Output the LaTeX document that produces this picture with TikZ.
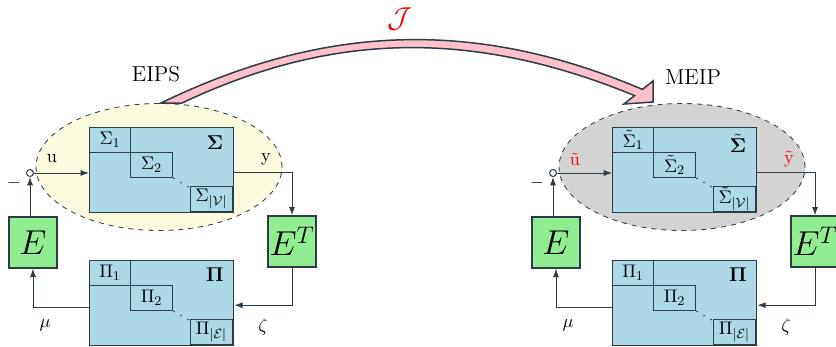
\documentclass[tikz,border=0pt]{standalone}
\usepackage{amsmath}
\usetikzlibrary{arrows.meta,shapes.geometric,calc}
\definecolor{lc}{RGB}{45,60,70}
\definecolor{boxblue}{RGB}{173,216,230}
\definecolor{grn}{RGB}{144,238,144}
\definecolor{pnk}{RGB}{255,192,203}
\definecolor{ylw}{RGB}{252,250,222}
\definecolor{gry}{RGB}{211,211,211}
\newcommand\pxu{0.6pt}
\newcommand\idm[1]{#1}
\tikzset{
  every node/.style={font=\fontsize{11}{13}\selectfont},
  bigbox/.style={draw=lc, fill=boxblue, line width=0.8pt, inner sep=0pt,
    minimum width=144*\pxu, minimum height=85*\pxu},
  subbox/.style={draw=lc, line width=0.7pt, inner sep=0pt,
    minimum width=41*\pxu, minimum height=25*\pxu},
  gbox/.style={draw=lc, fill=grn, line width=0.8pt, inner sep=0pt,
    minimum width=48*\pxu, minimum height=51*\pxu, font=\huge},
  boldlab/.style={font=\fontsize{13}{15}\selectfont},
  titlelab/.style={font=\fontsize{13}{15}\selectfont},
  conn/.style={draw=lc, line width=0.6pt},
  arr/.style={conn, -{Latex[length=5pt,width=3.6pt]}},
  sumpt/.style={circle, draw=lc, fill=white, line width=0.6pt, inner sep=0pt, minimum size=7*\pxu},
}
\newcommand\drawsys[6]{%
\begin{scope}[shift={(#2,0)}]
 \node[ellipse, draw=lc, dashed, fill=#3, line width=0.5pt, minimum width=246*\pxu, minimum height=127*\pxu] (#1ell) at (159,167) {};
 \node[bigbox, anchor=north west] (#1sig) at (89,127) {};
 \node[subbox, anchor=north west] (#1s1) at (89,127) {$#4{\Sigma}_1$};
 \node[subbox, anchor=north west, minimum width=42*\pxu] (#1s2) at (130,152) {$#4{\Sigma}_2$};
 \node[subbox, anchor=south east, minimum width=42*\pxu] (#1s3) at (233,212) {$#4{\Sigma}_{|\mathcal{V}|}$};
 \node[boldlab] (#1sl) at (215,143) {$#4{\mathbf{\Sigma}}$};
 \fill[lc] (174,178.5) circle (0.55pt) (181,182.5) circle (0.55pt) (188,186.5) circle (0.55pt);
 \node[bigbox, anchor=north west] (#1pi) at (89,260) {};
 \node[subbox, anchor=north west] (#1p1) at (89,260) {$\Pi_1$};
 \node[subbox, anchor=north west, minimum width=42*\pxu] (#1p2) at (130,285) {$\Pi_2$};
 \node[subbox, anchor=south east, minimum width=42*\pxu] (#1p3) at (233,345) {$\Pi_{|\mathcal{E}|}$};
 \node[boldlab] (#1pl) at (215,275) {$\mathbf{\Pi}$};
 \fill[lc] (174,311.5) circle (0.55pt) (181,315.5) circle (0.55pt) (188,319.5) circle (0.55pt);
 \node[gbox] (#1E) at (33,242.5) {$E$};
 \node[gbox] (#1ET) at (292,241.5) {$E^T$};
 \node[sumpt] (#1c) at (30,173) {};
 \node (#1m) at (14,183) {$-$};
 \node (#1u) at (52,159) {#5};
 \node (#1y) at (266,159) {#6};
 \node (#1mu) at (45,325) {$\mu$};
 \node (#1ze) at (263,327) {$\zeta$};
 \draw[arr] (#1E.north -| #1c.south) -- (#1c.south);
 \draw[arr] (#1c.east) -- (#1c -| #1sig.west);
 \draw[arr] ([yshift=-2*\pxu]#1sig.east) -| (#1ET.north);
 \draw[arr] (#1ET.south) |- ([yshift=-2*\pxu]#1pi.east);
 \draw[arr] ([yshift=-4*\pxu]#1pi.west) -| (#1E.south);
\end{scope}}
\begin{document}
\begin{tikzpicture}[x=0.6pt, y=-0.6pt]
\clip (0,0) rectangle (836,346);
\fill[white] (0,0) rectangle (836,346);
\drawsys{L}{0}{ylw}{\idm}{$\mathrm{u}$}{$\mathrm{y}$}
\drawsys{R}{523}{gry}{\tilde}{\textcolor{red}{$\tilde{\mathrm{u}}$}}{\textcolor{red}{$\tilde{\mathrm{y}}$}}
\node[titlelab] (eips) at (156,74) {EIPS};
\node[titlelab] (meip) at (693,77) {MEIP};
\node[text=red, font=\LARGE, inner sep=0pt] (J) at (400,19) {$\mathcal{J}$};
\filldraw[fill=pnk, draw=lc, line width=0.9pt, line join=miter]
 (161,103) .. controls (326,23) and (477,19) .. (642.4,89.4)
 -- (653,81) -- (653,102) -- (624,104) -- (634.6,95.6)
 .. controls (470,28) and (330,33) .. (182,103) -- cycle;
\end{tikzpicture}
\end{document}
